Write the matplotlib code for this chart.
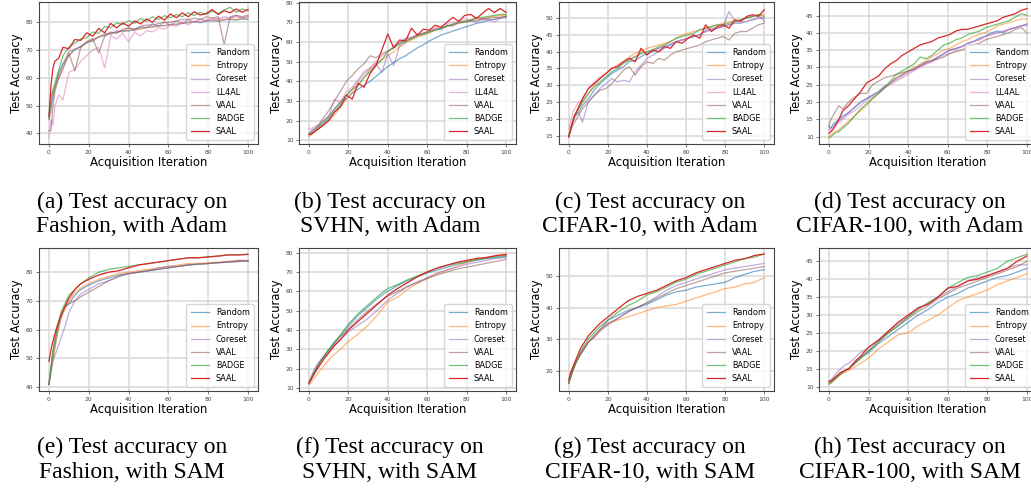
import matplotlib
matplotlib.use('Agg')
import matplotlib.pyplot as plt

x_adam = [0, 1, 2, 3, 5, 7, 10, 13, 16, 19,
          22, 25, 28, 31, 34, 37, 40, 43, 46, 49,
          52, 55, 58, 61, 64, 67, 70, 73, 76, 79,
          82, 85, 88, 91, 94, 97, 100]
x_sam = [0, 1, 2, 4, 6, 8, 10, 13, 16, 20,
         25, 30, 35, 40, 45, 50, 55, 60, 65, 70,
         75, 80, 85, 90, 95, 100]

# (a) Fashion, Adam
fa_random = [46.0, 50.0, 53.0, 56.5, 62.0, 65.0, 68.0, 70.2, 71.2, 72.8,
             73.2, 74.8, 75.2, 76.2, 76.4, 77.0, 76.8, 77.6, 77.8, 78.2,
             78.4, 78.8, 78.8, 79.2, 79.2, 79.6, 79.8, 80.2, 79.8, 80.4,
             80.6, 80.4, 80.8, 81.0, 80.8, 81.2, 81.0]
fa_entropy = [47.0, 52.0, 55.0, 57.0, 60.0, 64.0, 68.0, 70.5, 71.0, 73.0,
              73.5, 75.0, 75.5, 76.0, 76.5, 76.8, 77.2, 77.2, 77.6, 78.0,
              78.2, 78.6, 78.8, 79.2, 79.4, 79.8, 80.0, 80.2, 80.2, 80.6,
              80.8, 80.6, 81.0, 81.2, 81.0, 81.4, 81.6]
fa_coreset = [45.0, 48.0, 54.0, 57.0, 61.0, 65.0, 69.5, 70.0, 71.5, 72.5,
              74.0, 74.5, 76.0, 75.5, 77.0, 76.5, 78.0, 77.0, 78.5, 78.0,
              79.5, 78.5, 80.0, 79.0, 80.5, 79.5, 81.0, 80.0, 81.2, 80.5,
              81.5, 81.0, 82.0, 81.5, 82.5, 81.5, 82.0]
fa_ll4al = [38.5, 45.0, 43.0, 50.0, 54.0, 52.0, 62.0, 63.0, 66.0, 68.0,
            70.0, 71.0, 63.5, 75.0, 74.0, 76.0, 73.0, 76.5, 75.0, 77.0,
            76.5, 78.0, 77.5, 79.0, 78.5, 80.0, 79.0, 80.5, 80.0, 81.0,
            80.5, 81.5, 81.0, 81.5, 82.0, 81.5, 82.0]
fa_vaal = [41.0, 41.0, 50.0, 55.0, 60.0, 63.0, 69.0, 62.5, 71.0, 73.0,
           74.0, 69.0, 75.0, 76.5, 76.0, 77.5, 78.0, 77.5, 78.5, 79.0,
           79.0, 79.5, 80.0, 80.0, 80.5, 81.0, 81.0, 81.5, 81.0, 82.0,
           81.5, 82.0, 72.0, 82.0, 82.5, 82.0, 82.5]
fa_badge = [45.0, 53.0, 55.5, 58.0, 63.0, 68.0, 71.0, 72.5, 74.0, 74.5,
            76.5, 76.0, 78.5, 78.0, 79.8, 79.2, 80.6, 79.6, 81.4, 80.4,
            82.0, 81.0, 82.4, 81.6, 82.8, 82.0, 83.4, 82.4, 83.6, 82.8,
            84.0, 83.2, 84.4, 85.4, 83.6, 84.8, 84.2]
fa_saal = [46.0, 57.0, 63.5, 66.0, 67.2, 71.0, 70.5, 73.8, 73.5, 76.2,
           75.0, 77.8, 76.2, 79.6, 78.0, 79.8, 78.6, 80.5, 79.4, 81.2,
           80.0, 82.2, 80.8, 83.0, 81.6, 83.4, 82.0, 83.8, 82.6, 83.2,
           84.6, 82.8, 84.2, 83.4, 84.8, 83.6, 84.6]

# (b) SVHN, Adam
sb_random = [13.0, 13.5, 14.0, 14.5, 16.5, 18.0, 21.0, 24.5, 28.0, 31.0,
             34.0, 36.0, 38.0, 40.0, 42.5, 45.0, 47.5, 49.5, 51.5, 53.0,
             55.0, 57.0, 58.5, 60.5, 62.0, 63.5, 64.5, 65.5, 66.5, 67.5,
             68.5, 69.5, 70.0, 71.0, 71.5, 72.0, 72.5]
sb_entropy = [12.0, 12.5, 13.5, 14.5, 16.0, 17.5, 20.0, 23.0, 27.0, 31.0,
              34.5, 38.0, 42.0, 46.0, 49.0, 51.0, 53.0, 55.0, 57.5, 59.5,
              61.0, 62.5, 63.5, 64.5, 66.0, 67.0, 68.0, 68.5, 70.0, 70.5,
              71.5, 72.0, 72.0, 72.5, 73.0, 73.5, 73.5]
sb_coreset = [14.0, 14.5, 15.5, 16.0, 17.5, 19.5, 22.5, 26.0, 30.0, 33.0,
              36.0, 40.0, 44.0, 46.5, 49.0, 44.5, 54.0, 48.0, 58.0, 60.0,
              62.0, 63.5, 64.5, 65.5, 67.0, 66.0, 68.5, 68.0, 70.0, 70.5,
              71.0, 70.0, 72.0, 71.0, 71.5, 72.5, 73.0]
sb_ll4al = [16.0, 15.5, 16.5, 17.0, 18.0, 20.0, 22.0, 31.0, 29.0, 35.0,
            37.0, 41.0, 45.0, 47.0, 50.0, 53.0, 55.0, 58.0, 60.0, 62.0,
            62.5, 64.0, 63.5, 65.0, 67.0, 68.0, 69.0, 70.0, 70.5, 72.0,
            71.0, 72.5, 71.0, 72.0, 70.0, 72.0, 73.0]
sb_vaal = [13.0, 14.0, 15.0, 16.0, 18.0, 21.0, 25.0, 30.0, 35.0, 40.0,
           43.0, 46.5, 49.0, 53.0, 52.0, 54.0, 55.5, 57.0, 59.5, 61.5,
           62.0, 63.5, 64.5, 65.5, 66.0, 67.0, 68.0, 69.0, 69.5, 70.0,
           70.5, 71.0, 71.5, 72.0, 72.5, 72.5, 73.0]
sb_badge = [13.0, 13.5, 14.0, 15.0, 17.0, 19.0, 22.0, 26.0, 29.0, 33.0,
            36.0, 38.0, 42.0, 45.0, 48.0, 51.0, 55.0, 57.0, 59.0, 60.5,
            61.5, 63.0, 64.0, 65.0, 66.0, 67.0, 68.0, 69.0, 70.0, 70.5,
            71.0, 72.0, 72.5, 73.0, 73.5, 74.0, 74.0]
sb_saal = [13.0, 13.2, 13.8, 14.5, 16.0, 17.5, 20.0, 24.5, 27.0, 33.0,
           31.0, 39.0, 37.0, 44.0, 48.0, 56.0, 64.0, 57.0, 61.0, 60.5,
           67.0, 63.5, 66.5, 66.0, 68.5, 67.5, 70.0, 72.5, 70.5, 73.5,
           74.0, 72.0, 74.5, 77.0, 75.0, 77.0, 75.0]

# (c) CIFAR-10, Adam
cc_random = [15.0, 17.0, 19.0, 20.5, 22.0, 24.0, 26.0, 28.5, 30.5, 32.0,
             33.5, 34.5, 35.5, 37.0, 37.5, 38.5, 39.5, 40.0, 41.0, 41.5,
             42.0, 43.0, 43.5, 44.0, 44.5, 45.0, 46.0, 46.5, 47.0, 47.5,
             48.0, 48.5, 48.5, 49.0, 49.5, 50.0, 50.0]
cc_entropy = [15.0, 17.5, 19.5, 21.0, 23.0, 25.0, 27.5, 30.0, 32.0, 33.5,
              35.0, 36.0, 37.0, 38.5, 39.5, 40.0, 41.0, 41.5, 42.0, 42.5,
              43.0, 44.0, 45.0, 45.5, 46.0, 46.5, 47.0, 47.5, 48.0, 48.5,
              49.0, 49.0, 49.5, 50.0, 50.5, 51.0, 51.0]
cc_coreset = [14.5, 17.0, 19.0, 21.0, 22.0, 19.0, 25.0, 27.0, 29.0, 30.5,
              32.0, 31.0, 31.5, 31.0, 34.0, 36.0, 38.0, 39.0, 40.0, 41.0,
              42.0, 43.0, 43.5, 44.0, 44.5, 45.0, 46.5, 47.0, 47.0, 47.5,
              52.0, 49.0, 49.5, 50.0, 50.5, 51.0, 49.0]
cc_ll4al = [17.0, 19.5, 22.0, 23.0, 25.0, 25.5, 29.0, 31.0, 32.5, 33.5,
            35.0, 36.0, 37.0, 38.0, 38.5, 39.5, 40.0, 40.5, 41.0, 42.0,
            42.5, 43.0, 43.5, 44.0, 44.5, 45.0, 46.0, 46.5, 47.0, 47.5,
            48.0, 48.5, 49.0, 49.0, 49.5, 50.0, 50.0]
cc_vaal = [15.0, 16.5, 18.0, 19.0, 21.0, 23.0, 25.0, 27.0, 28.5, 29.0,
           30.5, 32.5, 34.5, 35.5, 33.0, 35.5, 37.0, 36.5, 38.0, 37.5,
           39.0, 40.0, 40.5, 41.0, 41.5, 42.0, 43.0, 43.5, 44.0, 44.5,
           43.5, 45.5, 46.0, 46.0, 47.0, 48.0, 48.5]
cc_badge = [15.0, 17.0, 19.5, 21.0, 23.0, 25.0, 27.5, 29.5, 31.0, 32.5,
            34.0, 35.0, 36.5, 37.5, 38.5, 39.5, 40.0, 40.5, 41.5, 42.0,
            43.0, 44.0, 44.5, 45.0, 45.5, 46.5, 47.0, 47.5, 48.0, 48.0,
            48.5, 49.0, 49.5, 50.0, 50.5, 51.0, 50.5]
cc_saal = [14.5, 17.0, 19.0, 21.0, 23.5, 26.0, 29.0, 30.5, 32.0, 33.5,
           35.0, 35.5, 37.0, 38.0, 37.0, 41.0, 39.0, 40.5, 40.0, 41.5,
           41.0, 43.0, 42.5, 44.0, 45.0, 44.0, 48.0, 46.0, 47.5, 48.0,
           47.0, 49.5, 49.0, 50.5, 51.0, 50.5, 52.5]

# (d) CIFAR-100, Adam
cd_random = [13.0, 12.5, 13.5, 14.0, 15.0, 16.0, 17.0, 18.5, 20.0, 21.0,
             22.0, 23.0, 24.5, 25.5, 27.0, 28.0, 29.0, 29.5, 30.5, 31.5,
             32.0, 33.0, 34.0, 35.0, 35.5, 36.0, 37.0, 37.5, 38.5, 39.0,
             40.0, 40.5, 40.0, 41.0, 41.5, 42.0, 42.5]
cd_entropy = [10.0, 10.5, 11.0, 11.5, 12.0, 13.0, 14.5, 16.0, 17.5, 19.0,
              21.0, 22.5, 24.0, 25.5, 27.0, 28.0, 29.0, 30.0, 31.0, 32.0,
              33.0, 34.0, 35.0, 35.5, 36.5, 37.5, 38.0, 39.0, 39.5, 40.0,
              41.0, 42.0, 42.5, 43.0, 43.5, 44.0, 44.0]
cd_coreset = [12.0, 12.5, 13.0, 13.5, 14.5, 15.5, 17.0, 18.5, 20.0, 21.0,
              22.0, 23.0, 24.5, 25.5, 26.5, 27.5, 28.5, 29.5, 30.5, 31.0,
              32.0, 33.0, 34.0, 35.0, 35.5, 36.0, 37.0, 37.5, 38.0, 39.0,
              39.5, 40.0, 40.5, 41.0, 41.5, 42.0, 42.5]
cd_ll4al = [12.0, 12.0, 12.5, 13.0, 14.0, 15.0, 16.5, 17.5, 19.0, 20.5,
            21.5, 22.5, 24.0, 25.0, 26.0, 27.0, 28.0, 29.0, 30.0, 31.0,
            31.5, 32.5, 33.5, 34.0, 35.0, 36.0, 36.5, 37.5, 38.0, 39.0,
            39.5, 40.0, 40.5, 41.0, 41.5, 42.0, 42.0]
cd_vaal = [13.0, 15.0, 16.0, 17.0, 19.0, 18.0, 20.0, 21.5, 22.5, 22.5,
           25.0, 26.0, 27.0, 27.5, 28.0, 28.5, 29.0, 29.5, 30.5, 31.5,
           32.0, 32.5, 33.0, 34.0, 34.5, 35.0, 36.0, 36.5, 37.0, 38.0,
           38.5, 39.0, 39.5, 40.0, 41.0, 41.5, 40.0]
cd_badge = [9.7, 10.0, 10.5, 11.0, 11.5, 12.5, 14.0, 16.0, 18.0, 19.5,
            21.0, 22.5, 24.0, 26.0, 28.0, 29.0, 30.0, 31.0, 33.0, 32.5,
            33.5, 35.0, 36.5, 37.0, 38.0, 38.5, 39.5, 40.0, 40.5, 41.5,
            42.0, 42.5, 43.0, 43.5, 44.5, 45.5, 45.0]
cd_saal = [11.0, 11.5, 12.0, 13.0, 15.0, 17.5, 19.0, 21.0, 23.0, 25.5,
           26.5, 27.5, 29.5, 31.0, 32.0, 33.5, 34.5, 35.5, 36.5, 37.0,
           37.5, 38.5, 39.0, 39.5, 40.5, 41.0, 41.0, 41.5, 42.0, 42.5,
           43.0, 43.5, 44.5, 45.0, 45.5, 46.5, 47.0]

# (e) Fashion, SAM
fe_random = [41.0, 46.0, 50.0, 58.0, 64.0, 68.0, 69.0, 72.0, 74.0, 75.5,
             77.0, 78.0, 79.0, 79.5, 80.0, 80.5, 81.0, 81.5, 82.0, 82.5,
             82.8, 83.0, 83.3, 83.5, 83.7, 83.8]
fe_entropy = [41.0, 46.0, 50.0, 58.0, 64.0, 67.0, 70.0, 73.0, 74.5, 76.0,
              77.5, 78.5, 79.5, 80.0, 80.5, 81.0, 81.5, 82.0, 82.5, 83.0,
              83.0, 83.3, 83.5, 83.8, 84.0, 84.0]
fe_coreset = [41.0, 45.0, 49.0, 53.0, 57.0, 61.0, 66.0, 70.0, 72.5, 74.0,
              76.0, 77.0, 78.5, 79.5, 80.0, 80.5, 81.5, 82.0, 82.0, 82.5,
              82.8, 83.0, 83.3, 83.5, 84.2, 84.0]
fe_vaal = [41.0, 47.0, 52.0, 60.0, 65.0, 68.0, 69.0, 70.0, 71.5, 73.0,
           75.0, 77.0, 78.5, 79.5, 80.0, 80.5, 81.0, 81.5, 82.0, 82.5,
           82.8, 83.0, 83.3, 83.5, 83.7, 84.0]
fe_badge = [41.0, 47.0, 53.0, 60.0, 66.0, 69.0, 72.0, 74.0, 76.0, 78.0,
            80.0, 81.0, 81.5, 82.0, 82.5, 83.0, 83.5, 84.0, 84.5, 85.0,
            85.0, 85.3, 85.6, 86.0, 86.0, 86.2]
fe_saal = [49.0, 53.0, 56.0, 61.0, 65.0, 68.0, 71.0, 74.0, 76.0, 77.5,
           79.0, 80.0, 80.5, 81.5, 82.5, 83.0, 83.5, 84.0, 84.5, 85.0,
           85.0, 85.3, 85.6, 86.0, 86.0, 86.2]

# (f) SVHN, SAM
sf_random = [13.0, 15.0, 17.0, 21.0, 24.0, 27.0, 29.5, 33.5, 37.0, 42.0,
             47.5, 52.0, 56.5, 60.0, 63.0, 65.5, 67.5, 69.5, 71.0, 72.5,
             74.0, 75.0, 76.0, 77.0, 77.5, 78.0]
sf_entropy = [11.5, 12.5, 14.0, 17.0, 19.5, 22.0, 24.5, 27.5, 30.0, 34.0,
              38.0, 42.5, 48.0, 54.5, 57.0, 61.0, 64.0, 67.0, 69.0, 71.0,
              73.0, 75.0, 76.5, 77.5, 78.5, 79.5]
sf_coreset = [13.0, 15.5, 18.0, 22.0, 24.5, 26.5, 28.5, 32.0, 35.0, 39.0,
              42.5, 46.0, 50.5, 55.5, 59.0, 62.5, 65.0, 67.0, 69.5, 71.0,
              72.5, 74.0, 75.0, 76.0, 77.0, 77.5]
sf_vaal = [12.5, 14.5, 16.5, 20.5, 24.0, 27.0, 29.5, 33.0, 36.5, 40.5,
           45.5, 50.0, 54.0, 57.5, 60.0, 62.5, 64.5, 66.5, 68.5, 70.0,
           71.5, 72.5, 73.5, 74.5, 75.5, 76.5]
sf_badge = [12.5, 14.5, 16.5, 20.5, 24.0, 27.0, 30.0, 34.0, 37.5, 43.0,
            48.5, 53.0, 57.5, 61.5, 63.5, 66.0, 68.0, 70.0, 72.0, 73.5,
            74.5, 75.5, 76.5, 77.0, 78.0, 78.5]
sf_saal = [12.5, 14.0, 16.0, 19.5, 22.5, 25.5, 28.0, 32.0, 35.0, 40.0,
           44.5, 49.0, 53.5, 58.0, 61.5, 64.5, 67.5, 70.0, 72.0, 73.5,
           75.0, 76.0, 77.0, 77.5, 78.5, 79.0]

# (g) CIFAR-10, SAM
cg_random = [16.0, 18.0, 20.0, 23.0, 25.5, 27.0, 29.0, 31.0, 33.0, 36.0,
             37.5, 39.0, 40.0, 41.0, 42.5, 44.0, 45.0, 45.5, 46.5, 47.0,
             47.5, 48.0, 49.5, 50.5, 51.5, 52.0]
cg_entropy = [16.0, 18.0, 20.0, 23.0, 25.5, 27.5, 29.0, 31.0, 33.0, 35.0,
              36.0, 37.0, 38.0, 39.0, 40.0, 40.5, 41.0, 42.0, 43.0, 44.0,
              45.0, 46.0, 46.5, 47.5, 48.0, 49.5]
cg_coreset = [16.0, 18.0, 20.0, 23.0, 25.0, 27.0, 29.0, 31.0, 33.0, 35.0,
              36.5, 38.5, 40.0, 41.5, 43.5, 45.5, 47.0, 48.0, 49.0, 50.0,
              51.0, 52.0, 52.5, 53.0, 53.5, 54.0]
cg_vaal = [16.0, 18.0, 20.0, 23.0, 25.0, 27.0, 29.0, 30.5, 32.5, 34.5,
           36.5, 38.5, 40.0, 41.5, 43.0, 44.5, 46.0, 47.0, 48.0, 49.0,
           50.0, 51.0, 51.5, 52.0, 52.5, 53.0]
cg_badge = [16.0, 18.0, 20.0, 23.0, 26.0, 28.0, 30.0, 32.0, 34.0, 36.0,
            38.5, 40.5, 42.0, 44.0, 45.0, 46.5, 48.0, 49.0, 50.5, 51.5,
            52.5, 53.5, 54.5, 55.5, 56.0, 57.0]
cg_saal = [17.0, 19.5, 21.0, 24.0, 27.0, 29.0, 31.0, 33.0, 35.0, 37.0,
           39.5, 42.0, 43.5, 44.5, 45.5, 47.0, 48.5, 49.5, 51.0, 52.0,
           53.0, 54.0, 55.0, 55.5, 56.5, 57.0]

# (h) CIFAR-100, SAM
ch_random = [11.5, 11.5, 12.0, 13.0, 13.5, 14.5, 15.0, 16.5, 18.0, 19.5,
             22.0, 24.0, 26.0, 28.0, 30.0, 31.5, 33.5, 35.0, 36.0, 37.5,
             38.5, 39.5, 40.5, 41.0, 42.0, 43.0]
ch_entropy = [11.0, 11.0, 11.5, 12.5, 13.5, 14.0, 14.5, 15.5, 16.5, 18.0,
              20.5, 22.5, 24.5, 25.0, 27.0, 28.5, 30.0, 32.0, 34.0, 35.0,
              36.0, 37.0, 38.5, 39.5, 40.5, 41.5]
ch_coreset = [11.5, 12.0, 12.5, 14.0, 15.0, 16.0, 16.5, 18.0, 19.5, 21.0,
              23.0, 25.5, 27.5, 29.5, 32.0, 33.0, 35.0, 36.5, 38.0, 39.5,
              40.5, 41.0, 42.0, 43.0, 44.0, 44.0]
ch_vaal = [11.0, 11.5, 12.0, 13.0, 14.0, 14.5, 15.0, 16.5, 18.0, 20.0,
           22.5, 25.0, 27.0, 29.0, 31.0, 32.5, 34.5, 36.0, 37.5, 38.5,
           39.5, 40.5, 41.5, 42.5, 43.5, 45.0]
ch_badge = [10.7, 11.0, 11.5, 12.5, 13.5, 14.5, 15.0, 16.5, 18.0, 20.0,
            22.5, 25.0, 27.0, 29.5, 31.5, 33.5, 35.0, 37.5, 39.0, 40.5,
            41.0, 42.0, 43.0, 45.0, 46.0, 47.0]
ch_saal = [11.5, 11.5, 12.0, 13.0, 14.0, 14.5, 15.0, 17.0, 18.5, 21.0,
           23.0, 25.5, 28.0, 30.0, 32.0, 33.0, 35.0, 37.5, 38.0, 39.5,
           40.0, 41.0, 42.0, 43.0, 45.0, 46.5]

captions = ['(a) Test accuracy on\nFashion, with Adam',
            '(b) Test accuracy on\nSVHN, with Adam',
            '(c) Test accuracy on\nCIFAR-10, with Adam',
            '(d) Test accuracy on\nCIFAR-100, with Adam',
            '(e) Test accuracy on\nFashion, with SAM',
            '(f) Test accuracy on\nSVHN, with SAM',
            '(g) Test accuracy on\nCIFAR-10, with SAM',
            '(h) Test accuracy on\nCIFAR-100, with SAM']

colors = {'Random': '#1f77b4', 'Entropy': '#ff7f0e', 'Coreset': '#9467bd',
          'LL4AL': '#e377c2', 'VAAL': '#8c564b', 'BADGE': '#2ca02c',
          'SAAL': '#d62728'}
alphas = {'Random': 0.6, 'Entropy': 0.55, 'Coreset': 0.55, 'LL4AL': 0.55,
          'VAAL': 0.55, 'BADGE': 0.65, 'SAAL': 1.0}

panels = [
    (x_adam, [('Random', fa_random), ('Entropy', fa_entropy), ('Coreset', fa_coreset),
              ('LL4AL', fa_ll4al), ('VAAL', fa_vaal), ('BADGE', fa_badge), ('SAAL', fa_saal)],
     (36.2, 87.3), [40, 50, 60, 70, 80]),
    (x_adam, [('Random', sb_random), ('Entropy', sb_entropy), ('Coreset', sb_coreset),
              ('LL4AL', sb_ll4al), ('VAAL', sb_vaal), ('BADGE', sb_badge), ('SAAL', sb_saal)],
     (8.2, 80.3), [10, 20, 30, 40, 50, 60, 70, 80]),
    (x_adam, [('Random', cc_random), ('Entropy', cc_entropy), ('Coreset', cc_coreset),
              ('LL4AL', cc_ll4al), ('VAAL', cc_vaal), ('BADGE', cc_badge), ('SAAL', cc_saal)],
     (12.5, 54.8), [15, 20, 25, 30, 35, 40, 45, 50]),
    (x_adam, [('Random', cd_random), ('Entropy', cd_entropy), ('Coreset', cd_coreset),
              ('LL4AL', cd_ll4al), ('VAAL', cd_vaal), ('BADGE', cd_badge), ('SAAL', cd_saal)],
     (7.9, 48.9), [10, 15, 20, 25, 30, 35, 40, 45]),
    (x_sam, [('Random', fe_random), ('Entropy', fe_entropy), ('Coreset', fe_coreset),
             ('VAAL', fe_vaal), ('BADGE', fe_badge), ('SAAL', fe_saal)],
     (38.7, 88.4), [40, 50, 60, 70, 80]),
    (x_sam, [('Random', sf_random), ('Entropy', sf_entropy), ('Coreset', sf_coreset),
             ('VAAL', sf_vaal), ('BADGE', sf_badge), ('SAAL', sf_saal)],
     (8.5, 82.4), [10, 20, 30, 40, 50, 60, 70, 80]),
    (x_sam, [('Random', cg_random), ('Entropy', cg_entropy), ('Coreset', cg_coreset),
             ('VAAL', cg_vaal), ('BADGE', cg_badge), ('SAAL', cg_saal)],
     (13.5, 58.9), [20, 30, 40, 50]),
    (x_sam, [('Random', ch_random), ('Entropy', ch_entropy), ('Coreset', ch_coreset),
             ('VAAL', ch_vaal), ('BADGE', ch_badge), ('SAAL', ch_saal)],
     (8.8, 48.7), [10, 15, 20, 25, 30, 35, 40, 45]),
]

W, H = 1031, 491
fig = plt.figure(figsize=(W / 100, H / 100), dpi=100)

# axes boxes in pixels: left, right, top, bottom
cols = [(39, 258), (299, 516), (559, 774), (819, 1037)]
rows = [(2, 144), (248, 391)]
cap_x = [132, 390, 650, 910]
cap_y = [(202, 226), (447, 472)]

for k, (xs, series, ylim, yticks) in enumerate(panels):
    r, c = divmod(k, 4)
    l, rr = cols[c]
    t, b = rows[r]
    ax = fig.add_axes([l / W, 1 - b / H, (rr - l) / W, (b - t) / H])
    for name, ys in series:
        ax.plot(xs, ys, color=colors[name], alpha=alphas[name], lw=0.9, label=name)
    ax.set_xlim(-5, 105)
    ax.set_ylim(*ylim)
    ax.set_xticks([0, 20, 40, 60, 80, 100])
    ax.set_yticks(yticks)
    ax.grid(True, color='#d9d9d9', lw=1.1)
    ax.set_axisbelow(True)
    for sp in ax.spines.values():
        sp.set_color('#444444')
        sp.set_linewidth(0.8)
    ax.tick_params(labelsize=4.3, colors='#444444', length=2, width=0.5, pad=2)
    ax.set_xlabel('Acquisition Iteration', fontsize=8.4, labelpad=1)
    ax.set_ylabel('Test Accuracy', fontsize=8.4, labelpad=2)
    ax.legend(loc='lower right', fontsize=5.9, handlelength=2.3, framealpha=0.8,
              edgecolor='#cccccc', borderpad=0.5, labelspacing=0.5)
    y1, y2 = cap_y[r]
    line1, line2 = captions[k].split('\n')
    fig.text(cap_x[c] / W, 1 - y1 / H, line1, ha='center', va='center',
             family='Liberation Serif', fontsize=17)
    fig.text(cap_x[c] / W, 1 - y2 / H, line2, ha='center', va='center',
             family='Liberation Serif', fontsize=17)

fig.savefig('out.png', dpi=100)
